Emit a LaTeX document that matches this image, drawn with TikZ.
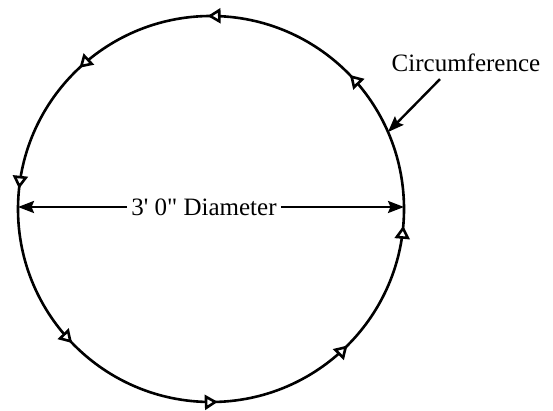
\documentclass[tikz,border=0pt]{standalone}
\usepackage{fontspec}
\setmainfont{Liberation Serif}
\usetikzlibrary{arrows.meta, calc, decorations.markings}

\begin{document}
\begin{tikzpicture}[
        x=1pt, y=1pt, font=\fontsize{25}{30}\selectfont,
        dirtip/.tip={Triangle[fill=white, length=13pt, width=15pt]},
        rim/.style={line width=2.6pt, postaction={decorate},
                    decoration={markings,
                      mark=at position 0.1222 with {\arrow{dirtip}},
                      mark=at position 0.2528 with {\arrow{dirtip}},
                      mark=at position 0.3694 with {\arrow{dirtip}},
                      mark=at position 0.4833 with {\arrow{dirtip}},
                      mark=at position 0.6222 with {\arrow{dirtip}},
                      mark=at position 0.7556 with {\arrow{dirtip}},
                      mark=at position 0.8750 with {\arrow{dirtip}},
                      mark=at position 0.9861 with {\arrow{dirtip}}}},
        lbl/.style={inner sep=4pt},
        dim/.style={-{Stealth[length=16pt, width=12pt, inset=2.5pt]}, line width=2.4pt},
      ]
        \useasboundingbox (0,0) rectangle (553,411);
        \coordinate (ctr) at (211,202);
        \draw[rim] (ctr) circle[radius=193];
        % diameter
        \node[lbl] (dia) at (204,204) {3\textquotesingle\ 0\textquotedbl\ Diameter};
        \coordinate (dl) at (18,204);
        \coordinate (dr) at (404,204);
        \draw[dim] (dia.west) -- (dl);
        \draw[dim] (dia.east) -- (dr);
        % circumference callout
        \node[lbl] (circ) at (466,348) {Circumference};
        \coordinate (cpt) at ($(ctr)+(23.5:193)$);
        \coordinate (ctail) at ($(circ.south)+(-26,-3)$);
        \draw[dim] (ctail) -- (cpt);
      \end{tikzpicture}
\end{document}
